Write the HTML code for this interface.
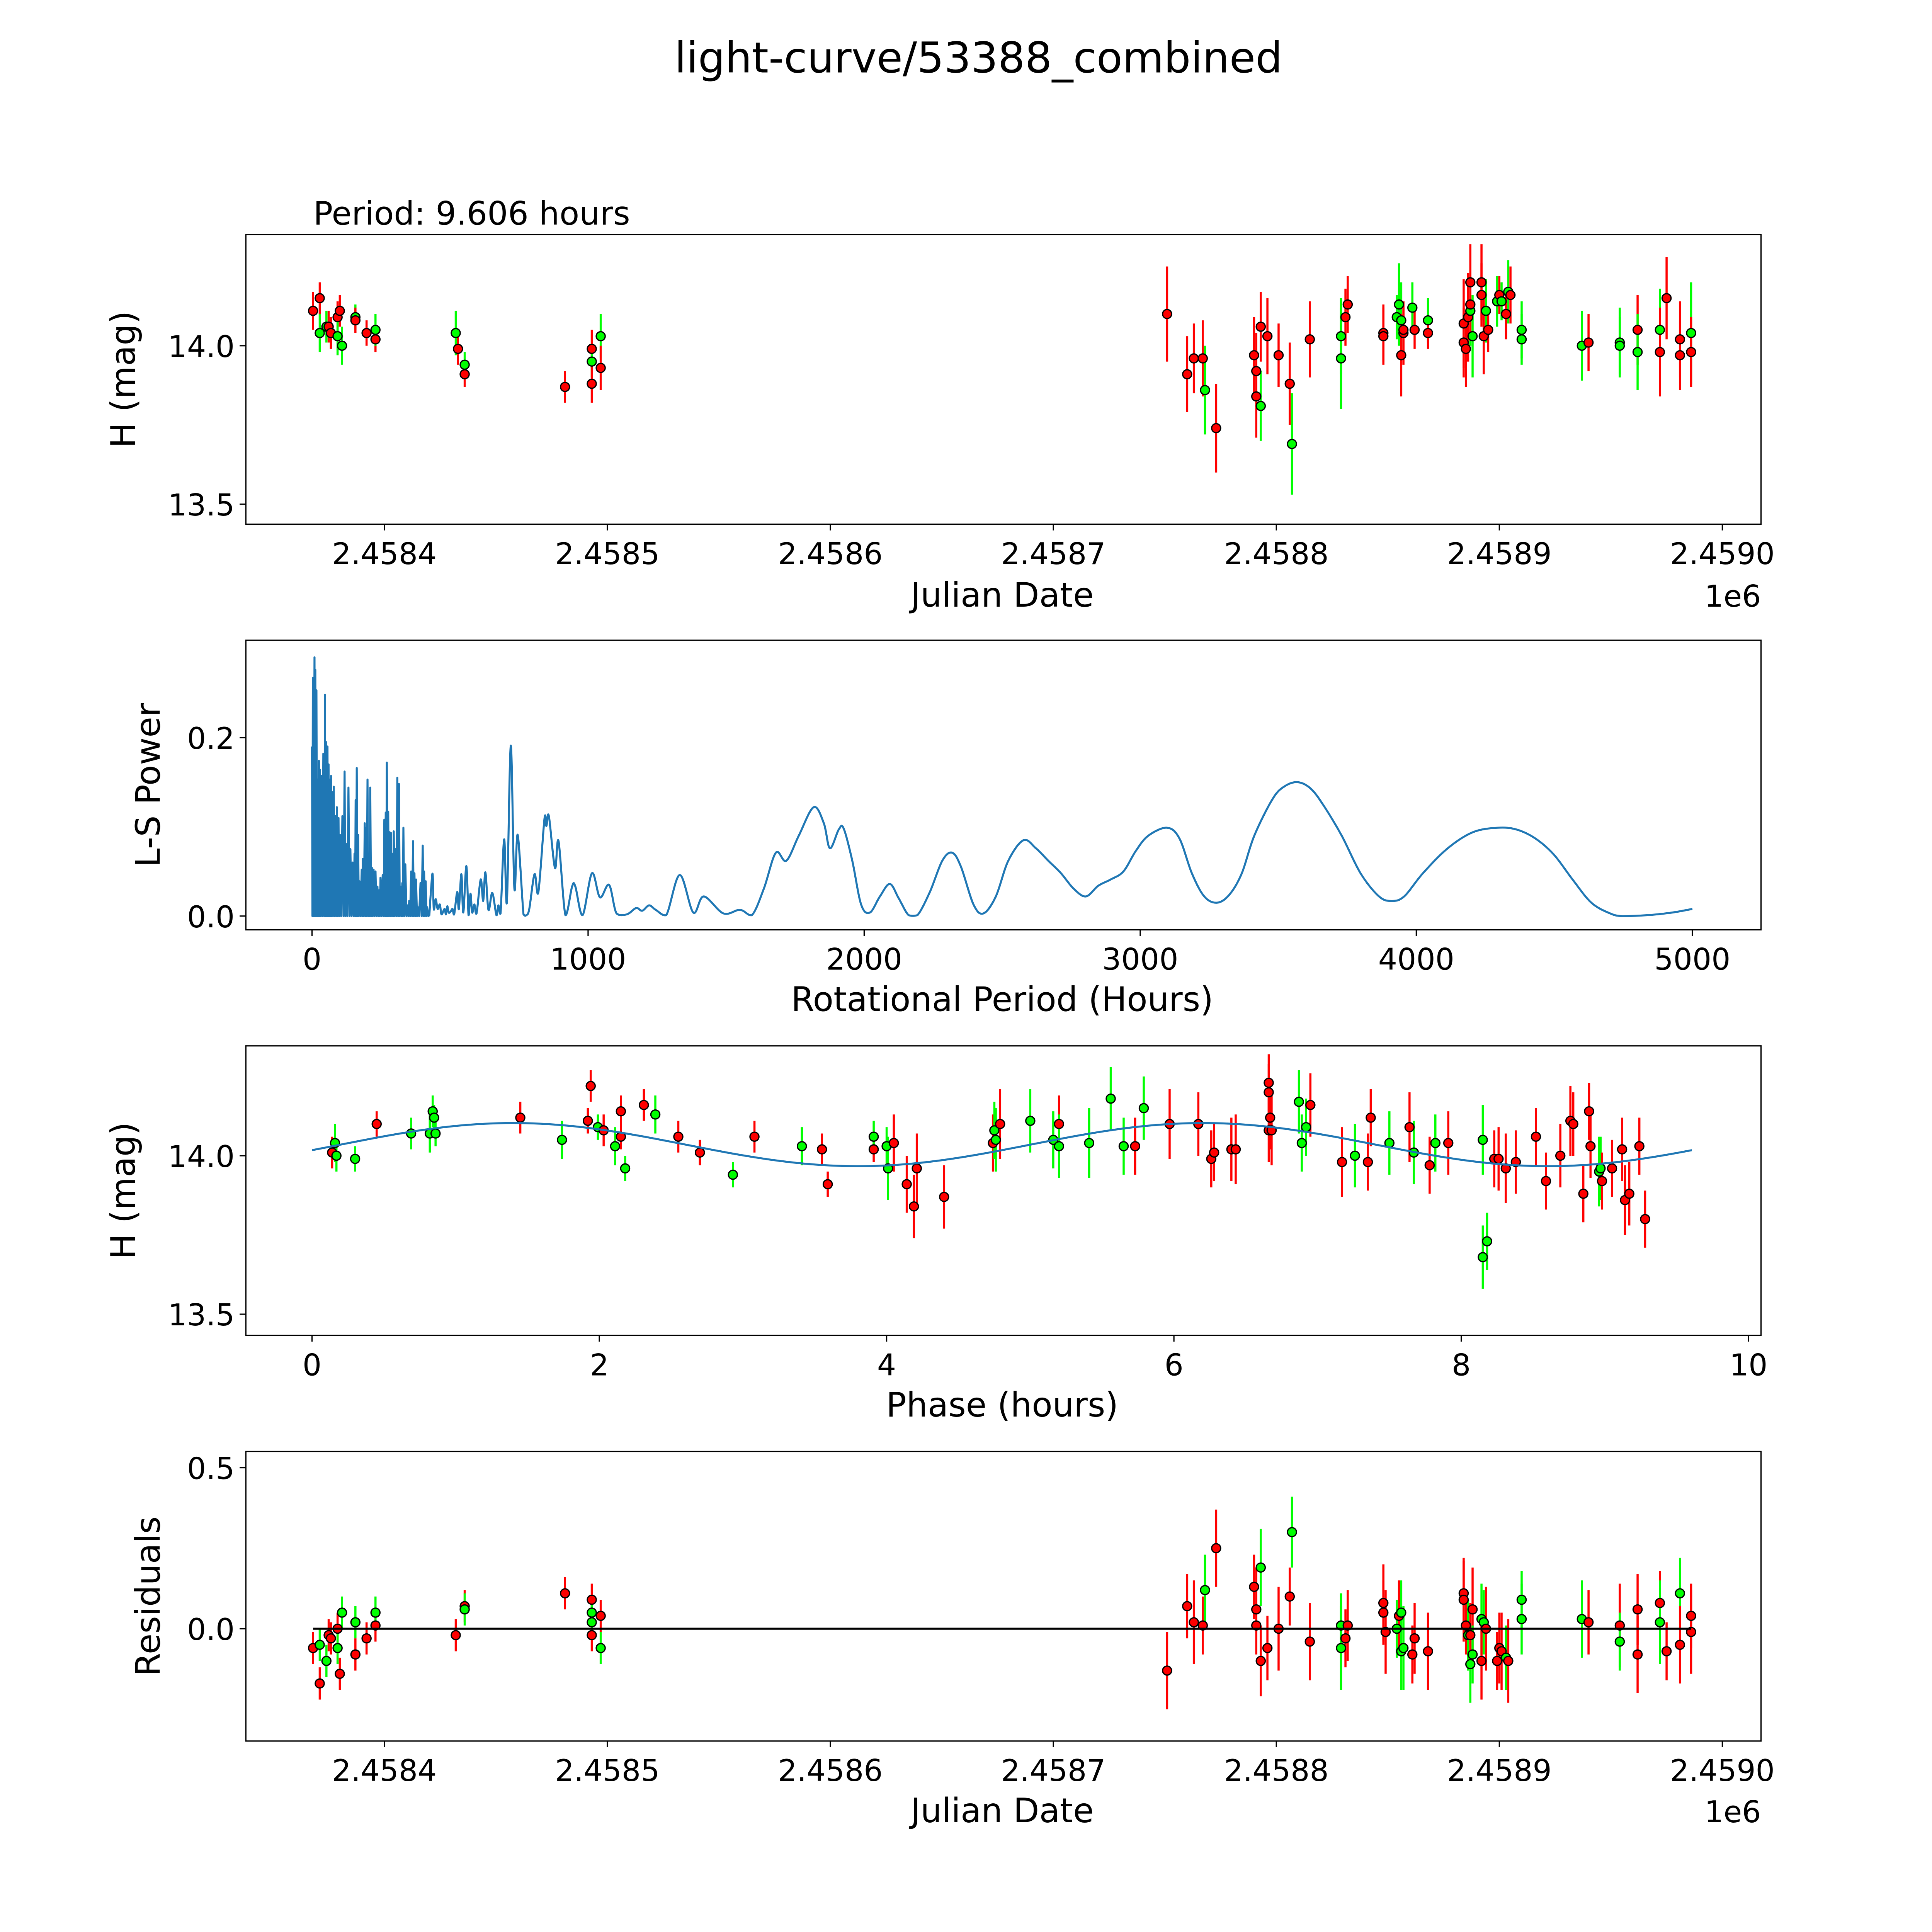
<!DOCTYPE html>
<html><head><meta charset="utf-8">
<style>
html,body{margin:0;padding:0;background:#fff;overflow:hidden;width:100%;height:100%;}
svg{display:block;position:fixed;left:0;top:0;width:100vw;height:100vh;font-family:"DejaVu Sans","Liberation Sans",sans-serif;}
</style></head>
<body>
<svg id="fig" xmlns="http://www.w3.org/2000/svg" viewBox="0 0 1548 1548" preserveAspectRatio="none">
<rect x="0" y="0" width="1548" height="1548" fill="#fff"/>
<text x="784" y="58" font-size="34" text-anchor="middle">light-curve/53388_combined</text>
<text x="251" y="180" font-size="26">Period: 9.606 hours</text>
<g id="p1"></g>
<g id="p2"></g>
<g id="p3"></g>
<g id="p4"></g>
</svg>
<script>
// ---- Panel 1: light curve ----
const lcJD = [2458368,2458371,2458371,2458374,2458375,2458376,2458379,2458379,2458380,2458381,2458387,2458387,2458392,2458396,2458396,2458432,2458433,2458436,2458436,2458481,2458493,2458493,2458493,2458497,2458497,
2458751,2458760,2458763,2458767,2458768,2458773,2458790,2458791,2458791,2458793,2458793,2458796,2458801,2458806,2458807,2458815,2458829,2458829,2458831,2458832,2458848,2458848,2458854,2458855,2458856,2458856,2458857,2458857,2458861,2458862,2458868,2458868,2458884,2458884,2458885,2458886,2458887,2458887,2458887,2458888,2458892,2458892,2458893,2458894,2458895,2458899,2458900,2458901,2458903,2458904,2458905,2458910,2458910,2458937,2458940,2458954,2458954,2458962,2458962,2458972,2458972,2458975,2458981,2458981,2458986,2458986];
const lcMag = [14.11,14.15,14.04,14.06,14.06,14.04,14.09,14.03,14.11,14.00,14.09,14.08,14.04,14.02,14.05,14.04,13.99,13.94,13.91,13.87,13.99,13.95,13.88,14.03,13.93,
14.10,13.91,13.96,13.96,13.86,13.74,13.97,13.84,13.92,14.06,13.81,14.03,13.97,13.88,13.69,14.02,14.03,13.96,14.09,14.13,14.04,14.03,14.09,14.13,14.08,13.97,14.04,14.05,14.12,14.05,14.08,14.04,14.07,14.01,13.99,14.09,14.11,14.20,14.13,14.03,14.20,14.16,14.03,14.11,14.05,14.14,14.16,14.14,14.10,14.17,14.16,14.05,14.02,14.00,14.01,14.01,14.00,14.05,13.98,14.05,13.98,14.15,14.02,13.97,14.04,13.98];
const lcCol = "rrggrrrgrggrrrggrgrrrgrgr" + "rrrrgrrrrrgrrrgrggrrrrgggrrrgrgrrrrrgrrgrrrgrgrgrgrgggrggrggrrrrgrgr";
const lcErr = [0.06,0.05,0.06,0.05,0.05,0.05,0.05,0.06,0.05,0.06,0.04,0.04,0.04,0.04,0.05,0.07,0.05,0.04,0.04,0.05,0.06,0.05,0.06,0.07,0.07,
0.15,0.12,0.11,0.12,0.14,0.14,0.12,0.13,0.12,0.11,0.11,0.12,0.10,0.13,0.16,0.12,0.12,0.16,0.09,0.09,0.09,0.09,0.07,0.13,0.12,0.13,0.10,0.07,0.08,0.06,0.07,0.05,0.14,0.11,0.12,0.14,0.11,0.12,0.10,0.13,0.12,0.10,0.12,0.10,0.07,0.08,0.06,0.06,0.08,0.10,0.09,0.09,0.08,0.11,0.09,0.11,0.09,0.11,0.12,0.13,0.14,0.13,0.12,0.11,0.16,0.11];

// ---- Panel 2: periodogram ----
const spikePeriod = [0,3,9,12,16,21,25,29,34,41,47,51,56,60,64,69,73,79,85,90,96,101,110,118,123,132,139,147,154,158,162,167,172,180,184,191,196,201,207,211,217,223,230,237,243,248,256,262,267,271,276,281,286,293,296,303,309,315,321,327,331,338,346,352,359,366,371,377,383,393,401,406,412,417];
const spikePower = [0.190,0.267,0.290,0.276,0.253,0.153,0.174,0.164,0.157,0.182,0.248,0.195,0.190,0.170,0.153,0.157,0.139,0.145,0.112,0.122,0.110,0.091,0.112,0.162,0.081,0.144,0.075,0.060,0.070,0.130,0.166,0.091,0.039,0.052,0.064,0.104,0.099,0.153,0.070,0.144,0.054,0.052,0.050,0.033,0.029,0.043,0.046,0.108,0.116,0.172,0.117,0.094,0.093,0.070,0.095,0.075,0.155,0.148,0.033,0.037,0.099,0.058,0.012,0.017,0.050,0.084,0.048,0.041,0.010,0.037,0.079,0.050,0.039,0.010];
const smoothPeriod = [425,431,437,441,448,455,463,469,480,485,490,495,502,509,515,526,532,541,548,559,567,574,580,588,596,611,620,628,639,653,668,675,683,696,706,720,733,745,766,776,787,806,820,842,849,858,880,893,918,942,954,980,1014,1043,1076,1103,1141,1174,1196,1221,1245,1283,1332,1381,1419,1490,1550,1593,1637,1680,
1718,1763,1817,1854,1876,1908,1926,1957,1989,2021,2057,2093,2125,2161,2193,2238,2283,2319,2351,2396,2432,2477,2522,2577,2622,2667,2713,2758,2803,2848,2893,2939,2984,3029,3097,3142,3187,3232,3278,3323,3368,3413,3481,3526,3572,3617,3662,3730,3798,3865,3911,3956,4024,4114,4205,4295,4363,4431,4498,4566,4634,4702,4747,4837,4928,5000];
const smoothPower = [0.001,0.029,0.047,0.008,0.019,0.008,0.013,0.002,0.008,0.002,0.011,0.004,0.005,0.008,0.002,0.027,0.008,0.047,0.004,0.056,0.001,0.025,0.004,0.013,0.003,0.041,0.017,0.049,0.007,0.026,0.001,0.012,0.003,0.086,0.016,0.191,0.031,0.091,0.002,0.001,0.008,0.047,0.027,0.109,0.101,0.112,0.054,0.084,0.001,0.033,0.033,0.001,0.048,0.021,0.035,0.003,0.002,0.009,0.006,0.012,0.007,0.001,0.046,0.004,0.022,0.003,0.007,0.001,0.031,0.071,
0.062,0.090,0.122,0.104,0.076,0.097,0.098,0.062,0.013,0.004,0.022,0.036,0.020,0.001,0.001,0.027,0.062,0.071,0.055,0.013,0.003,0.022,0.062,0.085,0.076,0.062,0.048,0.031,0.022,0.034,0.041,0.050,0.073,0.090,0.099,0.087,0.048,0.022,0.015,0.024,0.048,0.090,0.132,0.146,0.150,0.143,0.125,0.090,0.048,0.022,0.017,0.022,0.048,0.076,0.094,0.099,0.097,0.087,0.069,0.041,0.015,0.003,0.000,0.001,0.004,0.008];

// ---- Panel 3: phased ----
const phPhase = [0.14,0.16,0.17,0.30,0.45,0.69,0.82,0.84,0.85,0.86,1.45,1.74,1.94,1.92,1.99,2.03,2.11,2.15,2.15,2.18,2.31,2.39,2.55,2.70,2.93,3.08,3.41,3.55,3.59,3.91,3.91,4.00,4.01,4.05,4.14,4.19,4.21,4.40,4.74,4.75,4.76,4.79,5.00,5.16,5.20,5.20,5.41,5.56,5.65,5.73,5.79,5.97,6.17,6.26,6.28,6.40,6.43,6.66,6.66,6.66,6.67,6.68,6.87,6.89,6.92,6.95,7.17,7.26,7.35,7.37,7.50,7.64,7.67,7.78,7.82,7.91,8.15,8.15,8.18,8.23,8.26,8.31,8.38,8.52,8.59,8.69,8.76,8.78,8.85,8.89,8.90,8.96,8.97,8.98,9.05,9.12,9.14,9.17,9.24,9.28];
const phMag = [14.01,14.04,14.00,13.99,14.10,14.07,14.07,14.14,14.12,14.07,14.12,14.05,14.22,14.11,14.09,14.08,14.03,14.14,14.06,13.96,14.16,14.13,14.06,14.01,13.94,14.06,14.03,14.02,13.91,14.02,14.06,14.03,13.96,14.04,13.91,13.84,13.96,13.87,14.04,14.08,14.05,14.10,14.11,14.05,14.10,14.03,14.04,14.18,14.03,14.03,14.15,14.10,14.10,13.99,14.01,14.02,14.02,14.08,14.20,14.23,14.12,14.08,14.17,14.04,14.09,14.16,13.98,14.00,13.98,14.12,14.04,14.09,14.01,13.97,14.04,14.04,14.05,13.68,13.73,13.99,13.99,13.96,13.98,14.06,13.92,14.00,14.11,14.10,13.88,14.14,14.03,13.95,13.96,13.92,13.96,14.02,13.86,13.88,14.03,13.80];
const phCol = "rgggrggggg" + "rgrrgrgrrg" + "rgrrgrgrrr" + "gggrrrrrrg" + "grggrggggr" + "grrrrrrrrr" + "rrggg" + "rrgrrgrgrg" + "rgggrrrrrrr" + "rrrrrgg" + "rrrrrrrgg";
const phErr = Array.from(phPhase, (p,i) => [0.05,0.06,0.05,0.04,0.04][i%5] + (p>4 ? 0.05 : 0));
const modelAmp = [14.035, 0.068, 1.4, 4.803]; // mean, amplitude, phase of max, half period

// ---- Panel 4: residuals ----
const resJD = [2458368,2458371,2458371,2458374,2458375,2458376,2458379,2458379,2458380,2458381,2458387,2458387,2458392,2458396,2458396,2458432,2458436,2458436,2458481,2458493,2458493,2458493,2458493,2458497,2458497,
2458751,2458760,2458763,2458767,2458768,2458773,2458790,2458791,2458791,2458793,2458793,2458796,2458801,2458806,2458807,2458815,2458829,2458829,2458831,2458832,2458848,2458848,2458849,2458854,2458855,2458856,2458856,2458857,2458861,2458862,2458868,2458884,2458884,2458885,2458886,2458887,2458887,2458888,2458888,2458892,2458892,2458893,2458894,2458899,2458900,2458901,2458903,2458904,2458910,2458910,2458937,2458940,2458954,2458954,2458962,2458962,2458972,2458972,2458975,2458981,2458981,2458986,2458986];
const resVal = [-0.06,-0.17,-0.05,-0.10,-0.02,-0.03,0.00,-0.06,-0.14,0.05,0.02,-0.08,-0.03,0.01,0.05,-0.02,0.07,0.06,0.11,-0.02,0.09,0.02,0.05,0.04,-0.06,
-0.13,0.07,0.02,0.01,0.12,0.25,0.13,0.06,0.01,-0.10,0.19,-0.06,0.00,0.10,0.30,-0.04,0.01,-0.06,-0.03,0.01,0.08,0.05,-0.01,0.00,0.04,-0.07,0.05,-0.06,-0.08,-0.03,-0.07,0.11,0.09,0.01,-0.02,-0.11,-0.02,0.06,-0.08,0.03,-0.10,0.02,0.00,-0.10,-0.06,-0.07,-0.09,-0.10,0.09,0.03,0.03,0.02,0.01,-0.04,0.06,-0.08,0.08,0.02,-0.07,0.11,-0.05,0.04,-0.01];
const resCol = "rrggrrrgrggrrrgrrgrrrggrg" + "rrrrgrrrrrgrrrgrggrrrrrgrgggrrrrrrggrrggrgrrrrgrgggrrgrrrgrgr";
const resErr = Array.from(resVal, (v,i) => i<25 ? 0.05 : [0.12,0.10,0.13,0.09,0.11][i%5]);

// ---------- drawing ----------
const NS = "http://www.w3.org/2000/svg";
function mk(parent, tag, attrs, text){
  const e = document.createElementNS(NS, tag);
  for (const k in attrs) e.setAttribute(k, attrs[k]);
  if (text !== undefined) e.textContent = text;
  parent.appendChild(e);
  return e;
}
const L = 197, R = 1411;
function lin(d0, d1, r0, r1){ return v => r0 + (v - d0) * (r1 - r0) / (d1 - d0); }

function frame(g, top, bottom){
  const r = mk(g, 'rect', {x:L, y:top, width:R-L, height:bottom-top, fill:'none', stroke:'#000', 'stroke-width':1});
  
  
}
function xTicks(g, ticks, labels, xs, bottom){
  ticks.forEach((t,i) => {
    const x = xs(t);
    const l = mk(g, 'line', {x1:x, x2:x, y1:bottom, y2:bottom+5, stroke:'#000', 'stroke-width':1});
    
    
    const tx = mk(g, 'text', {x:x, y:bottom+32, 'font-size':24, 'text-anchor':'middle'}, labels[i]);
    
    
  });
}
function yTicks(g, ticks, labels, ys){
  ticks.forEach((t,i) => {
    const y = ys(t);
    const l = mk(g, 'line', {x1:L-5, x2:L, y1:y, y2:y, stroke:'#000', 'stroke-width':1});
    
    
    const tx = mk(g, 'text', {x:L-9, y:y+9, 'font-size':24, 'text-anchor':'end'}, labels[i]);
    
    
  });
}
function labels(g, xl, xly, yl, ylx, top, bottom){
  const a = mk(g, 'text', {x:803, y:xly, 'font-size':27, 'text-anchor':'middle'}, xl);
  
  
  const cy = (top+bottom)/2;
  const b = mk(g, 'text', {x:ylx, y:cy, 'font-size':27, 'text-anchor':'middle', transform:'rotate(-90 '+ylx+' '+cy+')'}, yl);
  
  
}
const colMap = {r:'#ff0000', g:'#00ff00'};
function points(g, xsArr, ysArr, errArr, cols, xs, ys){
  const eg = mk(g, 'g', {});
  
  
  const pg = mk(g, 'g', {});
  
  
  xsArr.forEach((xv,i) => {
    const x = xs(xv), c = colMap[cols[i]] || '#ff0000';
    const l = mk(eg, 'line', {x1:x, x2:x, y1:ys(ysArr[i]-errArr[i]), y2:ys(ysArr[i]+errArr[i]), stroke:c, 'stroke-width':1.7});
    
    
  });
  xsArr.forEach((xv,i) => {
    const c = colMap[cols[i]] || '#ff0000';
    const p = mk(pg, 'circle', {cx:xs(xv), cy:ys(ysArr[i]), r:3.6, fill:c, stroke:'#000', 'stroke-width':1});
    
    
  });
}
const jdTicks = [2458400,2458500,2458600,2458700,2458800,2458900,2459000];
const jdLabels = ['2.4584','2.4585','2.4586','2.4587','2.4588','2.4589','2.4590'];

// Panel 1
(function(){
  const g = document.getElementById('p1');
  const top = 188, bottom = 420;
  const xs = lin(2458400, 2459000, 308, 1380);
  const ys = lin(14.0, 13.5, 277, 404);
  frame(g, top, bottom);
  points(g, lcJD, lcMag, lcErr, lcCol, xs, ys);
  xTicks(g, jdTicks, jdLabels, xs, bottom);
  yTicks(g, [13.5, 14.0], ['13.5','14.0'], ys);
  labels(g, 'Julian Date', 486, 'H (mag)', 108, top, bottom);
  const o = mk(g, 'text', {x:1411, y:486, 'font-size':24, 'text-anchor':'end'}, '1e6');
  
  
})();

// Panel 2
(function(){
  const g = document.getElementById('p2');
  const top = 513, bottom = 745;
  const xs = lin(0, 5000, 250, 1356);
  const ys = lin(0, 0.2, 734, 591);
  frame(g, top, bottom);
  let d = '';
  spikePeriod.forEach((p,i) => {
    d += (i ? 'L' : 'M') + xs(p).toFixed(2) + ',' + ys(spikePower[i]).toFixed(2);
    const nx = i < spikePeriod.length-1 ? (xs(p)+xs(spikePeriod[i+1]))/2 : xs(p)+1;
    d += 'L' + nx.toFixed(2) + ',' + ys(0).toFixed(2);
  });
  // smooth section with Catmull-Rom curve through the data points
  const P = smoothPeriod.map((p,i) => [xs(p), ys(smoothPower[i])]);
  d += 'L' + P[0][0].toFixed(2) + ',' + P[0][1].toFixed(2);
  for (let i = 0; i < P.length-1; i++){
    const p0 = P[Math.max(0,i-1)], p1 = P[i], p2 = P[i+1], p3 = P[Math.min(P.length-1,i+2)];
    const c1x = p1[0] + (p2[0]-p0[0])/6, c1y = p1[1] + (p2[1]-p0[1])/6;
    const c2x = p2[0] - (p3[0]-p1[0])/6, c2y = p2[1] - (p3[1]-p1[1])/6;
    d += 'C' + c1x.toFixed(2)+','+Math.min(c1y,734).toFixed(2)+' '+c2x.toFixed(2)+','+Math.min(c2y,734).toFixed(2)+' '+p2[0].toFixed(2)+','+p2[1].toFixed(2);
  }
  const path = mk(g, 'path', {d:d, fill:'none', stroke:'#1f77b4', 'stroke-width':1.6, 'stroke-linejoin':'round'});
  
  
  xTicks(g, [0,1000,2000,3000,4000,5000], ['0','1000','2000','3000','4000','5000'], xs, bottom);
  yTicks(g, [0.0, 0.2], ['0.0','0.2'], ys);
  labels(g, 'Rotational Period (Hours)', 810, 'L-S Power', 128, top, bottom);
})();

// Panel 3
(function(){
  const g = document.getElementById('p3');
  const top = 838, bottom = 1070;
  const xs = lin(0, 10, 250, 1401);
  const ys = lin(14.0, 13.5, 926, 1053);
  frame(g, top, bottom);
  points(g, phPhase, phMag, phErr, phCol, xs, ys);
  let d = '';
  for (let k = 0; k <= 200; k++){
    const p = 9.606 * k / 200;
    const m = modelAmp[0] + modelAmp[1]*Math.cos(2*Math.PI*(p-modelAmp[2])/modelAmp[3]);
    d += (k ? 'L' : 'M') + xs(p).toFixed(2) + ',' + ys(m).toFixed(2);
  }
  const path = mk(g, 'path', {d:d, fill:'none', stroke:'#1f77b4', 'stroke-width':1.6});
  
  
  xTicks(g, [0,2,4,6,8,10], ['0','2','4','6','8','10'], xs, bottom);
  yTicks(g, [13.5, 14.0], ['13.5','14.0'], ys);
  labels(g, 'Phase (hours)', 1135, 'H (mag)', 108, top, bottom);
})();

// Panel 4
(function(){
  const g = document.getElementById('p4');
  const top = 1163, bottom = 1395;
  const xs = lin(2458400, 2459000, 308, 1380);
  const ys = lin(0, 0.5, 1305, 1176);
  frame(g, top, bottom);
  points(g, resJD, resVal, resErr, resCol, xs, ys);
  const z = mk(g, 'line', {x1:xs(2458368), x2:xs(2458986), y1:ys(0), y2:ys(0), stroke:'#000', 'stroke-width':1.6});
  
  
  xTicks(g, jdTicks, jdLabels, xs, bottom);
  yTicks(g, [0.0, 0.5], ['0.0','0.5'], ys);
  labels(g, 'Julian Date', 1460, 'Residuals', 128, top, bottom);
  const o = mk(g, 'text', {x:1411, y:1460, 'font-size':24, 'text-anchor':'end'}, '1e6');
  
  
})();
</script>
</body></html>
